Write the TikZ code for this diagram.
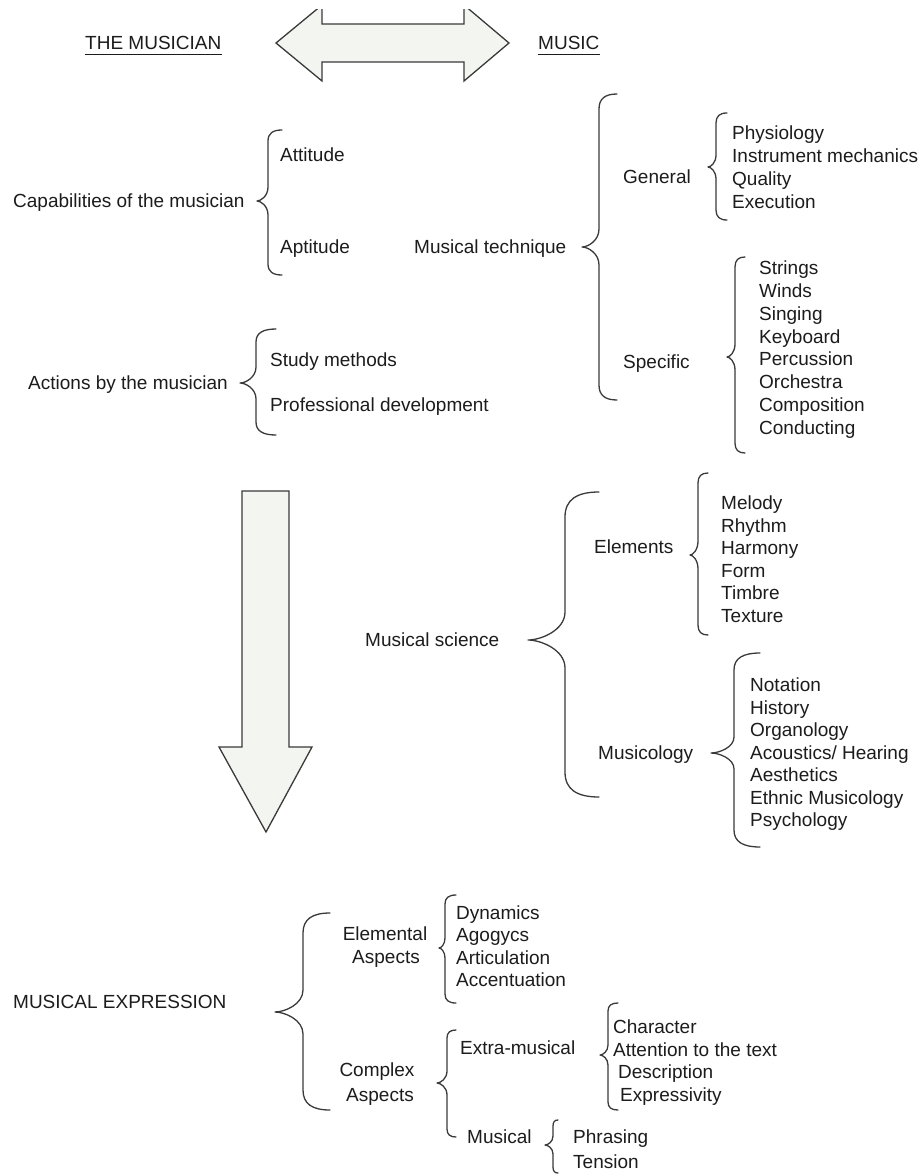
\documentclass[tikz,border=0pt]{standalone}
\usepackage{fontspec}
\setmainfont{Liberation Sans}
\usetikzlibrary{calc}
\definecolor{ink}{HTML}{1C1C1C}
\definecolor{edge}{HTML}{3A3A3A}
\definecolor{afill}{HTML}{F3F5F1}
% brace: xe, xv, xt, yt, ym, yb, r1 (end curl), r2 (tip curve)
\newcommand{\cbr}[8]{%
  \draw[brc] (#1,#4) .. controls ({#2+0.35*(#1-#2)},#4) and (#2,{#4+0.3*#7}) .. (#2,{#4+#7})
    -- (#2,{#5-#8}) .. controls (#2,{#5-0.35*#8}) and ({#3+0.35*(#2-#3)},#5) .. (#3,#5)
    .. controls ({#3+0.35*(#2-#3)},#5) and (#2,{#5+0.35*#8}) .. (#2,{#5+#8})
    -- (#2,{#6-#7}) .. controls (#2,{#6-0.3*#7}) and ({#2+0.35*(#1-#2)},#6) .. (#1,#6);}
\begin{document}
\begin{tikzpicture}[x=1pt,y=-1pt,
  every node/.style={font=\fontsize{19}{23}\selectfont, text=ink, inner sep=0pt},
  t/.style={anchor=base west},
  tc/.style={anchor=base},
  brc/.style={draw=edge, line width=1.3pt, line cap=round, line join=round},
  bigarrow/.style={draw=edge, fill=afill, line width=1.3pt, line join=miter},
  uline/.style={draw=ink, line width=1.3pt}]
\useasboundingbox (0,0) rectangle (920,1174);
\fill[white] (0,0) rectangle (920,1174);

% header
\node[t] (musician) at (85,50) {THE MUSICIAN};
\node[t] (music) at (538,50) {MUSIC};
\draw[uline] ($(musician.base west)+(0,4.5)$) -- ($(musician.base east)+(0,4.5)$);
\draw[uline] ($(music.base west)+(0,4.5)$) -- ($(music.base east)+(0,4.5)$);
\begin{scope}
  \clip (0,10) rectangle (920,1174);
  \draw[bigarrow] (276,43) -- (322,5) -- (322,24) -- (464,24) -- (464,5) -- (509,43)
     -- (464,81) -- (464,62) -- (322,62) -- (322,81) -- cycle;
\end{scope}

% left column
\node[t] (cap) at (13,207.5) {Capabilities of the musician};
\cbr{282}{268}{257}{130}{201}{275}{11}{14}
\node[t] (att) at (280,161.5) {Attitude};
\node[t] (apt) at (280,253.5) {Aptitude};

\node[t] (act) at (28,389.5) {Actions by the musician};
\cbr{276}{256}{240}{329}{383}{435}{13}{16}
\node[t] (study) at (270,366.5) {Study methods};
\node[t] (prof) at (270,411.5) {Professional development};

% musical technique
\node[t] (tech) at (414,253.5) {Musical technique};
\cbr{617}{599}{582}{94}{247}{400}{15}{18}
\node[t] (gen) at (623,183.5) {General};
\cbr{727}{716}{708}{113}{167}{220}{10}{12}
\foreach \w [count=\i from 0] in {Physiology,Instrument mechanics,Quality,Execution}
  \node[t, name=gen-\i] at (732,{139.5+23*\i}) {\w};
\node[t] (spec) at (623,368.5) {Specific};
\cbr{745}{735}{727}{257}{357}{453}{10}{13}
\foreach \w [count=\i from 0] in {Strings,Winds,Singing,Keyboard,Percussion,Orchestra,Composition,Conducting}
  \node[t, name=spec-\i] at (759,{274.5+22.86*\i}) {\w};

% down arrow
\draw[bigarrow] (242,491) -- (289,491) -- (289,747) -- (312,747) -- (266,832)
   -- (219,747) -- (242,747) -- cycle;

% musical science
\node[t] (sci) at (365,646.5) {Musical science};
\cbr{599}{565}{528}{492}{640}{797}{25}{28}
\node[t] (elem) at (594,553.5) {Elements};
\cbr{708}{698}{690}{473}{555}{635}{10}{14}
\foreach \w [count=\i from 0] in {Melody,Rhythm,Harmony,Form,Timbre,Texture}
  \node[t, name=elem-\i] at (721,{509.5+22.6*\i}) {\w};
\node[t] (mcol) at (598,759.5) {Musicology};
\cbr{760}{734}{711}{653}{753}{847}{17}{16}
\foreach \w [count=\i from 0] in {Notation,History,Organology,Acoustics/ Hearing,Aesthetics,Ethnic Musicology,Psychology}
  \node[t, name=mcol-\i] at (750,{691.5+22.5*\i}) {\w};

% musical expression
\node[t] (expr) at (13,1008.5) {MUSICAL EXPRESSION};
\cbr{330}{303}{275}{913}{1012}{1110}{20}{22}
\node[tc] (elm1) at (385,940.5) {Elemental};
\node[tc] (elm2) at (386,963.5) {Aspects};
\cbr{456}{445}{439}{895}{948}{1003}{9}{10}
\foreach \w [count=\i from 0] in {Dynamics,Agogycs,Articulation,Accentuation}
  \node[t, name=dyn-\i] at (456,{919.5+22.3*\i}) {\w};
\node[tc] (cpx1) at (377,1076.5) {Complex};
\node[tc] (cpx2) at (380,1101.5) {Aspects};
\cbr{456}{447}{437}{1030}{1083}{1137}{8}{12}
\node[t] (extra) at (460,1054.5) {Extra-musical};
\cbr{618}{608}{600}{1003}{1055}{1110}{8}{10}
\node[t] (chr) at (613,1033.5) {Character};
\node[t] (attn) at (613,1056) {Attention to the text};
\node[t] (desc) at (618,1078.5) {Description};
\node[t] (expv) at (620,1101.5) {Expressivity};
\node[t] (musc) at (467,1143.5) {Musical};
\cbr{558}{553}{545}{1120}{1145}{1173}{6}{9}
\node[t] (phr) at (573,1143.5) {Phrasing};
\node[t] (ten) at (573,1168.5) {Tension};
\end{tikzpicture}
\end{document}
